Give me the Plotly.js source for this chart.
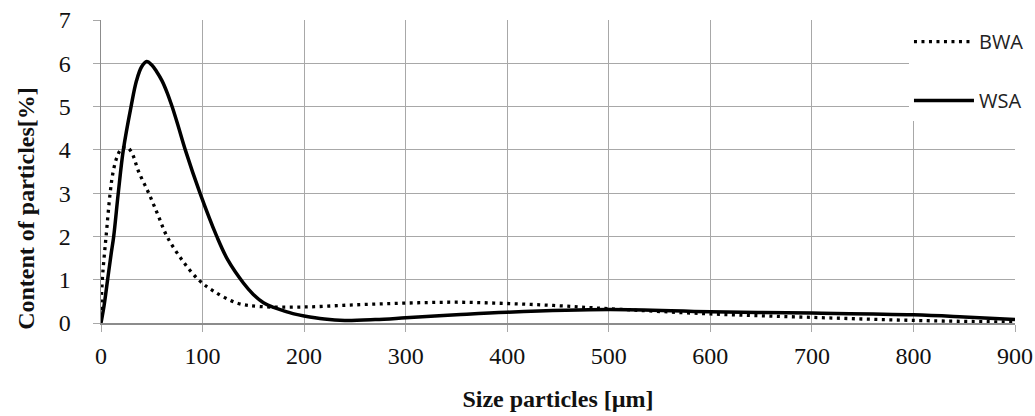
<!DOCTYPE html>
<html>
<head>
<meta charset="utf-8">
<script src="https://cdn.plot.ly/plotly-3.0.1.min.js"></script>
<style>html,body{margin:0;padding:0;background:#fff;}#chart{width:1035px;height:416px;}</style>
</head>
<body>
<div id="chart"></div>
<script>
// Size particles [µm] and content [%]
var bwaX = [0, 1.3, 3, 5, 9, 12, 16, 20, 25, 30, 37, 47, 56, 65, 80, 96, 110, 134, 157, 200, 250, 300, 350, 400, 450, 500, 600, 700, 800, 900];
var bwaY = [0.3, 1, 1.5, 2, 3, 3.5, 3.85, 4.02, 4.07, 3.95, 3.5, 3, 2.5, 2, 1.45, 1, 0.75, 0.46, 0.38, 0.37, 0.42, 0.46, 0.48, 0.45, 0.4, 0.33, 0.21, 0.13, 0.06, 0.02];
var wsaX = [0, 3, 6.5, 10, 12.5, 17, 22, 29.6, 35, 40, 45, 50, 55, 60, 65, 70, 76, 83, 97.5, 114, 125, 140, 150, 160, 170, 180, 190, 200, 220, 240, 270, 300, 350, 400, 500, 600, 700, 800, 850, 900];
var wsaY = [0, 0.4, 1, 1.6, 2, 3, 4, 5, 5.6, 5.92, 6.04, 5.96, 5.8, 5.6, 5.33, 5.0, 4.55, 4.0, 3.0, 2.0, 1.45, 0.93, 0.66, 0.47, 0.36, 0.28, 0.21, 0.16, 0.09, 0.06, 0.08, 0.12, 0.19, 0.25, 0.31, 0.26, 0.23, 0.19, 0.14, 0.08];
var seriesNames = ['BWA', 'WSA'];
var xTicks = [0, 100, 200, 300, 400, 500, 600, 700, 800, 900];
var yTicks = [0, 1, 2, 3, 4, 5, 6, 7];

var serif = 'Liberation Serif, Times New Roman, serif';
var traces = [
  {x: bwaX, y: bwaY, name: seriesNames[0], type: 'scatter', mode: 'lines', legendgroup: 'a',
   line: {color: '#000', width: 3.3, dash: '3px,4.5px', shape: 'spline', smoothing: 1}},
  {x: wsaX, y: wsaY, name: seriesNames[1], type: 'scatter', mode: 'lines', legendgroup: 'b',
   line: {color: '#000', width: 3.5, shape: 'spline', smoothing: 1}}
];
var layout = {
  width: 1035, height: 416,
  margin: {l: 101, r: 20, t: 20, b: 93, autoexpand: false},
  paper_bgcolor: '#fff', plot_bgcolor: '#fff',
  showlegend: true,
  legend: {x: 0.884, xanchor: 'left', y: 1.066, yanchor: 'top', bgcolor: '#fff', borderwidth: 0,
    font: {family: 'Open Sans, sans-serif', size: 20, color: '#222'},
    title: {text: '\u00a0', font: {size: 17}},
    itemwidth: 60, traceorder: 'grouped', tracegroupgap: 30},
  xaxis: {range: [0, 900], tickvals: xTicks, showgrid: true, gridcolor: '#a8a8a8', gridwidth: 1,
    zeroline: false, showline: true, linecolor: '#8c8c8c', linewidth: 1.5,
    ticks: 'outside', ticklen: 7, tickcolor: '#a8a8a8',
    tickfont: {family: serif, size: 24, color: '#111'}, ticklabelstandoff: 4,
    title: {text: '<b>Size particles [µm]</b>', font: {family: serif, size: 24, color: '#111'}, standoff: 22}},
  yaxis: {range: [0, 7], tickvals: yTicks, showgrid: true, gridcolor: '#a8a8a8', gridwidth: 1,
    zeroline: false, showline: true, linecolor: '#8c8c8c', linewidth: 1.5,
    ticks: 'outside', ticklen: 7, tickcolor: '#a8a8a8',
    tickfont: {family: serif, size: 24, color: '#111'}, ticklabelstandoff: 17},
  annotations: [{text: '<b>Content of particles[%]</b>', textangle: -90, xref: 'paper', yref: 'paper',
    x: -0.082, y: 0.377, xanchor: 'center', yanchor: 'middle', showarrow: false,
    font: {family: serif, size: 24, color: '#111'}}]
};
Plotly.newPlot('chart', traces, layout, {displayModeBar: false, staticPlot: true});
</script>
</body>
</html>
